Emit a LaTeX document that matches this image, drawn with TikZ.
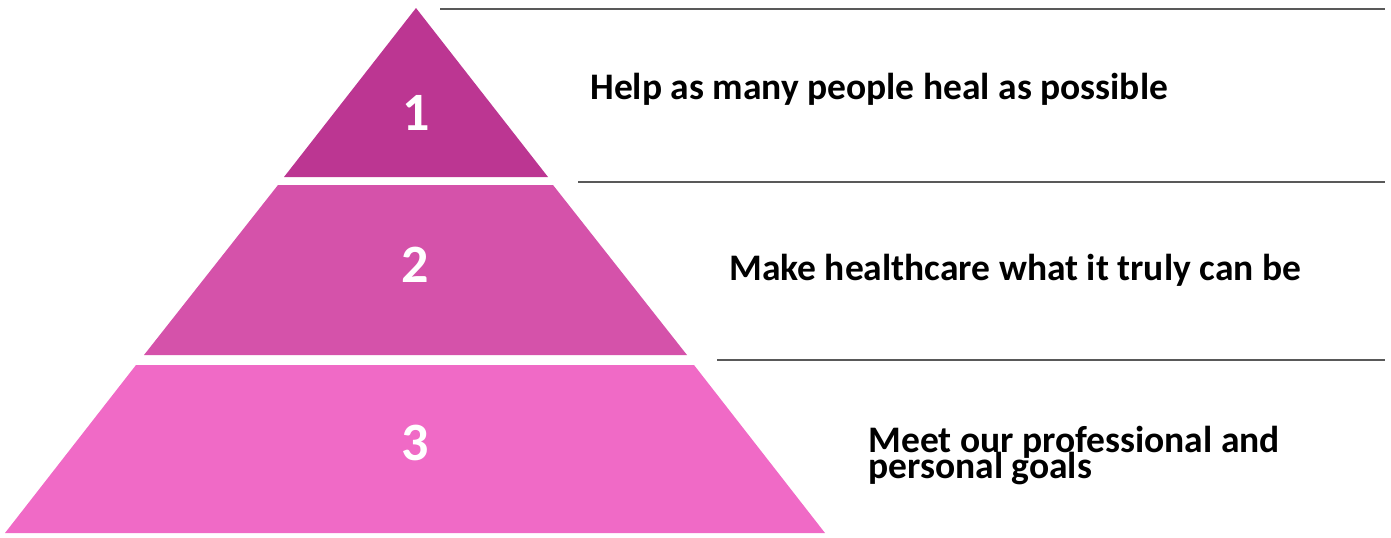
\documentclass[tikz,border=0pt]{standalone}
\usepackage{fontspec}
\setmainfont{Carlito}
\definecolor{tierone}{RGB}{188,54,146}
\definecolor{tiertwo}{RGB}{213,82,170}
\definecolor{tierthree}{RGB}{240,106,198}
\newcommand{\goalfont}{\bfseries\fontsize{18.75}{13}\selectfont\setlength{\lineskiplimit}{-20pt}}

\begin{document}
\begin{tikzpicture}[x=0.5pt,y=-0.5pt]
	\tikzset{numlabel/.style={text=white,inner sep=0pt,font=\bfseries\fontsize{27}{27}\selectfont}}
	\tikzset{goaltext/.style={anchor=base west,inner sep=0pt,align=left,font=\goalfont}}
	\tikzset{guide/.style={draw=black!65,line width=0.8pt}}
	\useasboundingbox (0,0) rectangle (1391,537);
	% the three tiers
	\fill[tierone] (416,8) -- (548,177) -- (284,177) -- cycle;
	\fill[tiertwo] (278,185) -- (553,185) -- (687,355) -- (144,355) -- cycle;
	\fill[tierthree] (136,365) -- (694,365) -- (825,533) -- (5,533) -- cycle;
	\node[numlabel] (n1) at (416,113) {1};
	\node[numlabel] (n2) at (415,265) {2};
	\node[numlabel] (n3) at (415,443) {3};
	% rules to the right
	\coordinate (r1a) at (440,9);   \coordinate (r1b) at (1385,9);
	\coordinate (r2a) at (578,182); \coordinate (r2b) at (1385,182);
	\coordinate (r3a) at (717,360); \coordinate (r3b) at (1385,360);
	\draw[guide] (r1a) -- (r1b);
	\draw[guide] (r2a) -- (r2b);
	\draw[guide] (r3a) -- (r3b);
	\node[goaltext] (g1) at (590,99) {Help as many people heal as possible};
	\node[goaltext] (g2) at (729,280) {Make healthcare what it truly can be};
	\node[goaltext] (g3) at (868,478) {Meet our professional and\\personal goals};
\end{tikzpicture}
\end{document}
